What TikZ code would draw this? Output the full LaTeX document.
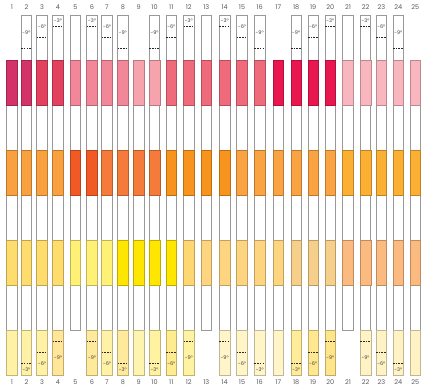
\documentclass[tikz,border=0pt]{standalone}
\usepackage{fontspec}
\setsansfont{Poppins}
\usepackage{tikz}
\usetikzlibrary{calc}
% band colours
\definecolor{P1}{HTML}{D4336A}
\definecolor{P2}{HTML}{E2425F}
\definecolor{P3}{HTML}{F3879A}
\definecolor{P4}{HTML}{F6A3AE}
\definecolor{P5}{HTML}{EF6B7C}
\definecolor{P6}{HTML}{E8174F}
\definecolor{P7}{HTML}{F8B6BE}
\definecolor{O1}{HTML}{F9A140}
\definecolor{O2}{HTML}{F15A24}
\definecolor{O3}{HTML}{F47B3A}
\definecolor{O4}{HTML}{F7941D}
\definecolor{O5}{HTML}{F9A343}
\definecolor{O6}{HTML}{FBB034}
\definecolor{Y1}{HTML}{FFDC6E}
\definecolor{Y2}{HTML}{FFF176}
\definecolor{Y3}{HTML}{FFE600}
\definecolor{Y4}{HTML}{FED672}
\definecolor{Y5}{HTML}{FDD580}
\definecolor{Y6}{HTML}{F6D08A}
\definecolor{Y7}{HTML}{FBBB80}
\definecolor{B1}{HTML}{FFF2A6}
\definecolor{B2}{HTML}{FFE698}
\definecolor{B3}{HTML}{FFEA9B}
\definecolor{B4}{HTML}{FFF3B0}
\definecolor{B5}{HTML}{FFF2A0}
\definecolor{B6}{HTML}{FFEC8E}
\definecolor{B7}{HTML}{FFF5C9}
\definecolor{B8}{HTML}{FFEC99}
\definecolor{B9}{HTML}{FFE88F}
\definecolor{B10}{HTML}{FFE589}
\definecolor{B11}{HTML}{FFF3C5}
\tikzset{
  % outline of one strip
  strip/.style={draw=black!40, line width=0.8pt, fill=white},
  % a coloured cell of a strip
  band/.style={draw=#1!75!black, line width=0.5pt, fill=#1},
  cutline/.style={dash pattern=on 1.6pt off 1.1pt, line width=0.6pt, draw=black!85},
  deg/.style={font=\sffamily\fontsize{5}{5}\selectfont, inner sep=0pt, text=black!75},
  num/.style={font=\sffamily\fontsize{6.5}{6.5}\selectfont, inner sep=0pt, text=black!65},
}

\begin{document}
\begin{tikzpicture}[x=1pt,y=-1pt]
  \useasboundingbox (0,0) rectangle (425,389);
  % kind: 0 = plain, 1 = raised, 2 = cut at \d degrees
  \foreach \n/\x/\k/\d/\cp/\co/\cy/\cb in {
      1/12/0/0/P1/O1/Y1/B1, 2/26.4/2/9/P1/O1/Y1/B1, 3/42/2/6/P2/O1/Y1/B1,
      4/58/2/3/P2/O1/Y1/B2, 5/75.3/1/0/P3/O2/Y2/B1, 6/92/2/3/P3/O2/Y2/B3,
      7/107/2/6/P3/O3/Y2/B1, 8/122.8/2/9/P3/O3/Y3/B3, 9/138.7/0/0/P4/O3/Y3/B4,
      10/154.5/2/9/P4/O3/Y3/B5, 11/171.3/2/6/P5/O4/Y3/B6, 12/188.8/2/3/P5/O4/Y4/B5,
      13/206.3/1/0/P5/O4/Y5/B1, 14/224.7/2/3/P5/O4/Y5/B7, 15/242/2/6/P5/O5/Y5/B7,
      16/259.7/2/9/P5/O5/Y5/B7, 17/278.3/0/0/P6/O5/Y5/B7, 18/296.2/2/9/P6/O5/Y6/B8,
      19/313.2/2/6/P6/O5/Y6/B9, 20/330.3/2/3/P6/O5/Y6/B10, 21/348/1/0/P7/O6/Y7/B7,
      22/365.5/2/3/P7/O6/Y7/B11, 23/381.3/2/6/P7/O6/Y7/B11, 24/398.3/2/9/P7/O6/Y7/B11,
      25/415.3/0/0/P7/O6/Y7/B11}{
    \pgfmathsetmacro{\ytop}{\k==0 ? 60 : 15}
    \pgfmathsetmacro{\ybot}{\k==1 ? 330 : 375}
    \draw[strip] (\x-5.3,\ytop) rectangle (\x+5.3,\ybot);
    \draw[band=\cp] (\x-5.3,60) rectangle (\x+5.3,105);
    \draw[band=\co] (\x-5.3,150) rectangle (\x+5.3,195);
    \draw[band=\cy] (\x-5.3,240) rectangle (\x+5.3,285);
    \ifnum\k=1\else
      \draw[band=\cb] (\x-5.3,330) rectangle (\x+5.3,375);
    \fi
    \ifnum\k=2
      \pgfmathtruncatemacro{\e}{12-\d}
      \draw[cutline] (\x-5.3,15+3.75*\d) -- (\x+5.3,15+3.75*\d);
      \draw[cutline] (\x-5.3,330+3.75*\d) -- (\x+5.3,330+3.75*\d);
      \node[deg] (dt\n) at (\x,15.5+1.875*\d) {-\d°};
      \node[deg] (db\n) at (\x,352.5+1.875*\d) {-\e°};
    \fi
    \node[num] (nt\n) at (\x,7) {\n};
    \node[num] (nb\n) at (\x,382) {\n};
  }
\end{tikzpicture}
\end{document}
